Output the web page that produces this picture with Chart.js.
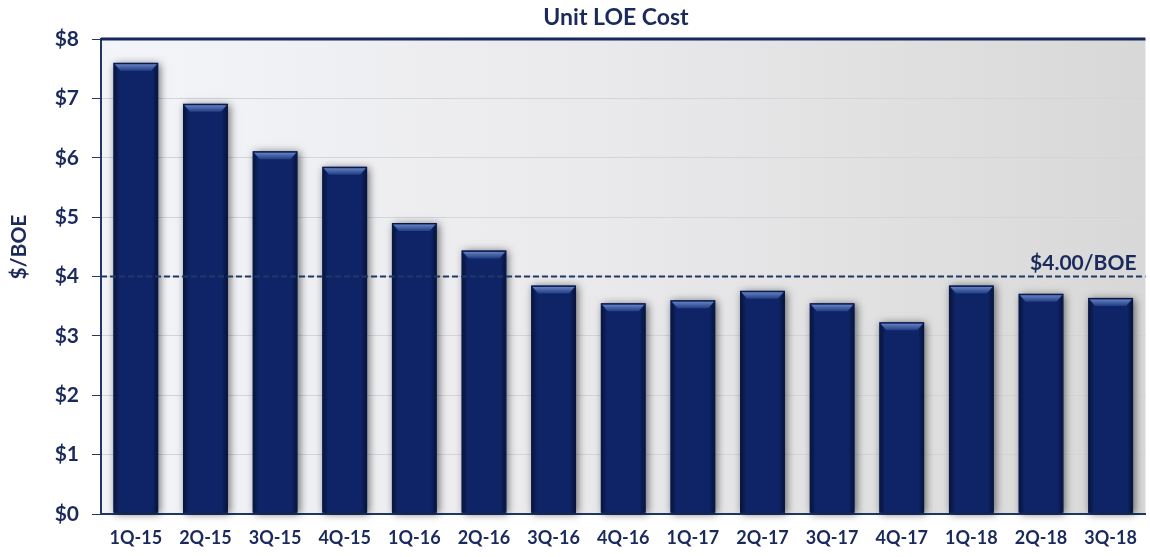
<!DOCTYPE html>
<html><head><meta charset="utf-8">
<script src="https://cdn.jsdelivr.net/npm/chart.js@4"></script>
<style>html,body{margin:0;padding:0;background:#fff}#w{width:1150px;height:557px}</style>
</head><body><div id="w"><canvas id="c" width="1150" height="557"></canvas></div>
<script>
const categories=['1Q-15','2Q-15','3Q-15','4Q-15','1Q-16','2Q-16','3Q-16','4Q-16','1Q-17','2Q-17','3Q-17','4Q-17','1Q-18','2Q-18','3Q-18'];
const unitLoe=[7.60,6.91,6.11,5.85,4.90,4.44,3.85,3.55,3.60,3.76,3.55,3.23,3.85,3.71,3.64];
const yTickLabels=['$0','$1','$2','$3','$4','$5','$6','$7','$8'];
const refValue=4.0;
const refLabel='$4.00/BOE';
const chartTitle='Unit LOE Cost';
const yTitle='$/BOE';

const NAVY='#1b2a5c';
const FONT='Lato, "Open Sans", sans-serif';

const decor={
  id:'decor',
  beforeDraw(chart){
    const {ctx,chartArea:a}=chart;
    ctx.save();
    const g=ctx.createLinearGradient(a.left,0,a.right,0);
    g.addColorStop(0,'#f4f5f9');
    g.addColorStop(0.5,'#e9e9eb');
    g.addColorStop(1,'#d8d8d8');
    ctx.fillStyle=g;
    ctx.fillRect(a.left,a.top,a.right-a.left,a.bottom-a.top);
    ctx.restore();
  },
  beforeDatasetsDraw(chart){
    const {ctx}=chart;
    const meta=chart.getDatasetMeta(0);
    ctx.save();
    ctx.shadowColor='rgba(0,0,0,0.55)';
    ctx.shadowBlur=8;
    ctx.shadowOffsetX=2;
    ctx.shadowOffsetY=1;
    ctx.fillStyle='#0f2466';
    meta.data.forEach(b=>{
      const l=b.x-b.width/2;
      ctx.fillRect(l,b.y,b.width,b.base-b.y-1);
    });
    ctx.restore();
  },
  afterDatasetsDraw(chart){
    const {ctx,chartArea:a}=chart;
    const meta=chart.getDatasetMeta(0);
    ctx.save();
    meta.data.forEach(b=>{
      const l=b.x-b.width/2, r=b.x+b.width/2, t=b.y, bot=b.base;
      const g=ctx.createLinearGradient(0,t,0,t+8);
      g.addColorStop(0,'#7590cc');
      g.addColorStop(1,'#213e86');
      ctx.fillStyle=g;
      ctx.beginPath();
      ctx.moveTo(l+1.5,t+1.5);ctx.lineTo(r-1.5,t+1.5);ctx.lineTo(r-7,t+8);ctx.lineTo(l+7,t+8);ctx.closePath();
      ctx.fill();
      const gl=ctx.createLinearGradient(l,0,l+6,0);
      gl.addColorStop(0,'rgba(3,12,40,0.8)');gl.addColorStop(1,'rgba(3,12,40,0)');
      ctx.fillStyle=gl;
      ctx.beginPath();ctx.moveTo(l+1,t+2);ctx.lineTo(l+6,t+8);ctx.lineTo(l+6,bot-1);ctx.lineTo(l+1,bot-1);ctx.closePath();ctx.fill();
      const gr=ctx.createLinearGradient(r,0,r-6,0);
      gr.addColorStop(0,'rgba(3,12,40,0.8)');gr.addColorStop(1,'rgba(3,12,40,0)');
      ctx.fillStyle=gr;
      ctx.beginPath();ctx.moveTo(r-1,t+2);ctx.lineTo(r-6,t+8);ctx.lineTo(r-6,bot-1);ctx.lineTo(r-1,bot-1);ctx.closePath();ctx.fill();
    });
    const y=chart.scales.y.getPixelForValue(refValue);
    ctx.strokeStyle='#1f3864';
    ctx.lineWidth=2;
    ctx.setLineDash([6,3]);
    ctx.beginPath();ctx.moveTo(a.left,y);ctx.lineTo(a.right,y);ctx.stroke();
    ctx.setLineDash([]);
    ctx.fillStyle=NAVY;
    ctx.font='bold 21px '+FONT;
    ctx.textAlign='right';ctx.textBaseline='alphabetic';
    ctx.fillText(refLabel,a.right-9,y-7);
    ctx.restore();
  },
  afterDraw(chart){
    const {ctx,chartArea:a}=chart;
    ctx.save();
    ctx.strokeStyle='#14285e';
    ctx.lineWidth=3;
    ctx.beginPath();ctx.moveTo(a.left,a.top);ctx.lineTo(a.right,a.top);ctx.stroke();
    ctx.fillStyle=NAVY;
    ctx.font='bold 23px '+FONT;
    ctx.textAlign='center';ctx.textBaseline='middle';
    ctx.fillText(chartTitle,616,18);
    ctx.translate(19,247);
    ctx.rotate(-Math.PI/2);
    ctx.font='bold 21px '+FONT;
    ctx.fillText(yTitle,0,0);
    ctx.restore();
  }
};

new Chart(document.getElementById('c'),{
  type:'bar',
  data:{labels:categories,datasets:[{data:unitLoe,backgroundColor:'#0f2466',borderColor:'#07173f',borderWidth:1,barPercentage:0.645,categoryPercentage:1}]},
  options:{
    responsive:false,animation:false,devicePixelRatio:1,
    layout:{padding:{top:39,right:2,left:0,bottom:0}},
    plugins:{legend:{display:false},title:{display:false},tooltip:{enabled:false}},
    scales:{
      x:{
        grid:{display:false,drawTicks:false},
        border:{display:true,color:'#1f3864',width:2},
        ticks:{color:NAVY,font:{family:FONT,size:18,weight:'bold'},padding:13,maxRotation:0,autoSkip:false},
        afterFit(s){s.height=43;}
      },
      y:{
        min:0,max:8,
        grid:{color:'#d3d5da',lineWidth:1,tickColor:'#1f3864',tickLength:9,drawTicks:true},
        border:{display:true,color:'#1f3864',width:2},
        ticks:{stepSize:1,color:NAVY,font:{family:FONT,size:21,weight:'bold'},padding:13,callback:(v)=>yTickLabels[v]},
        afterFit(s){s.width=101;}
      }
    }
  },
  plugins:[decor]
});
</script>
</body></html>
